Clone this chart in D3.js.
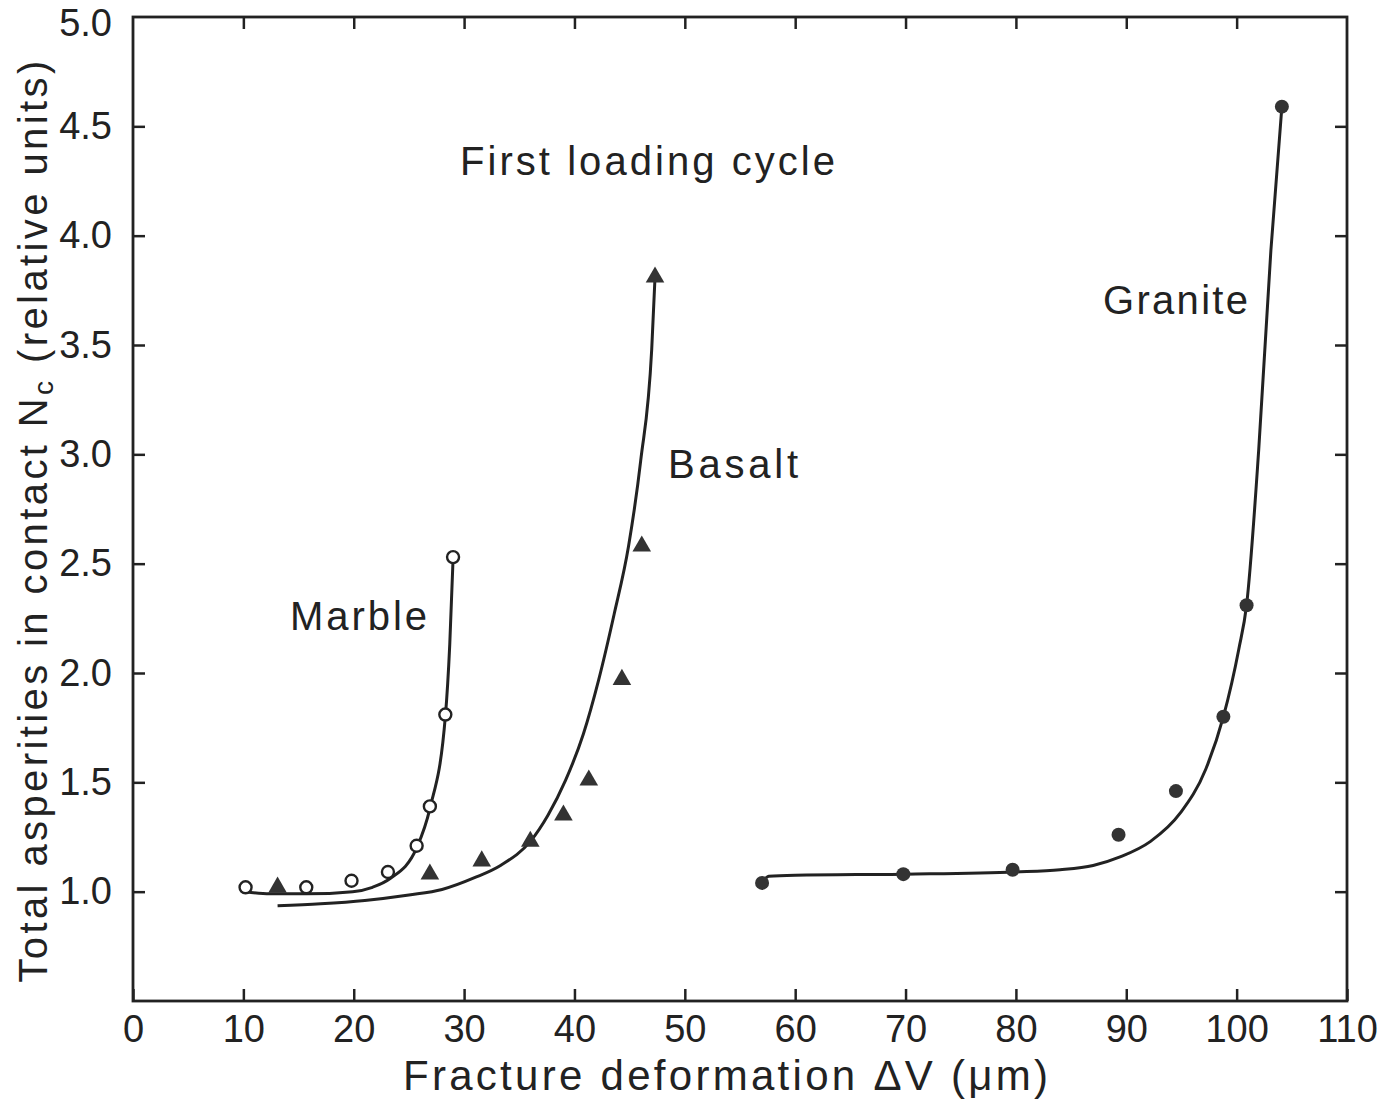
<!DOCTYPE html>
<html lang="en">
<head>
<meta charset="UTF-8">
<title>Total asperities in contact</title>
<script src="https://d3js.org/d3.v7.min.js"></script>
<style>
  body { margin: 0; background: #fff; }
  text { font-family: "Liberation Sans", Arial, sans-serif; fill: #222; }
</style>
</head>
<body>
<script>
// measured points [deformation µm, Nc]
const marblePts = [[10.2,1.02],[15.7,1.02],[19.8,1.05],[23.1,1.09],[25.7,1.21],[26.9,1.39],[28.3,1.81],[29.0,2.53]];
const basaltPts = [[13.1,1.02],[26.9,1.08],[31.6,1.14],[36.0,1.23],[39.0,1.35],[41.3,1.51],[44.3,1.97],[46.1,2.58],[47.3,3.81]];
const granitePts = [[57.0,1.04],[69.8,1.08],[79.7,1.10],[89.3,1.26],[94.5,1.46],[98.8,1.80],[100.9,2.31],[104.1,4.59]];

// fitted curves
const marbleCurve = [[10.2,1.0],[12.4,0.99],[15.7,0.99],[19.9,1.0],[21.7,1.02],[23.3,1.06],[25.7,1.2],[26.9,1.38],[28.3,1.8],[28.7,2.13],[29.0,2.52]];
const basaltCurve = [[13.1,0.936],[17,0.945],[21,0.96],[25,0.985],[28,1.01],[31,1.065],[33.3,1.12],[36,1.23],[37.6,1.35],[39.2,1.51],[40.8,1.72],[42.2,1.97],[43.6,2.27],[44.9,2.58],[46.0,2.97],[47.0,3.48],[47.3,3.81]];
const graniteCurve = [[57.0,1.04],[57.6,1.07],[60,1.075],[70,1.08],[80,1.09],[84,1.10],[87,1.12],[89.5,1.16],[92.2,1.23],[94.9,1.36],[97.2,1.56],[98.8,1.80],[100.2,2.11],[100.9,2.31],[102.0,3.02],[103.1,3.93],[104.1,4.59]];

const xTicks = d3.range(0, 111, 10);
const yTicks = [1.0, 1.5, 2.0, 2.5, 3.0, 3.5, 4.0, 4.5, 5.0];

const width = 1378, height = 1111;
const margin = {left: 133, right: 31, top: 17, bottom: 110};

const svg = d3.select("body").append("svg")
    .attr("width", width)
    .attr("height", height);

const x = d3.scaleLinear().domain([0, 110]).range([margin.left, width - margin.right]);
const y = d3.scaleLinear().domain([0.5, 5.0]).range([height - margin.bottom, margin.top]);

const ink = "#222";

// axes, ticks pointing inward on all four sides
function styleAxis(g) {
    g.select(".domain").remove();
    g.selectAll(".tick line").attr("stroke", ink).attr("stroke-width", 2.5);
    g.selectAll(".tick text").attr("fill", ink).style("font-size", "38px");
}

svg.append("g")
    .attr("transform", `translate(0,${y(0.5)})`)
    .call(d3.axisBottom(x).tickValues(xTicks).tickSize(-12).tickPadding(14).tickFormat(d3.format("d")))
    .call(styleAxis);

svg.append("g")
    .attr("transform", `translate(0,${y(5.0)})`)
    .call(d3.axisTop(x).tickValues(xTicks.slice(1, -1)).tickSize(-12).tickFormat(""))
    .call(styleAxis);

svg.append("g")
    .attr("transform", `translate(${x(0)},0)`)
    .call(d3.axisLeft(y).tickValues(yTicks.slice(0, -1)).tickSize(-12).tickPadding(21).tickFormat(d3.format(".1f")))
    .call(styleAxis);

// label for 5.0 sits a little low at the corner
svg.append("text")
    .attr("x", x(0) - 21).attr("y", y(5.0) + 19)
    .attr("text-anchor", "end")
    .style("font-size", "38px")
    .text("5.0");

svg.append("g")
    .attr("transform", `translate(${x(110)},0)`)
    .call(d3.axisRight(y).tickValues(yTicks.slice(0, -1)).tickSize(-12).tickFormat(""))
    .call(styleAxis);

svg.append("rect")
    .attr("x", x(0)).attr("y", y(5.0))
    .attr("width", x(110) - x(0)).attr("height", y(0.5) - y(5.0))
    .attr("fill", "none").attr("stroke", ink).attr("stroke-width", 2.8);

// curves
const line = d3.line()
    .x(d => x(d[0]))
    .y(d => y(d[1]))
    .curve(d3.curveMonotoneX);

[marbleCurve, basaltCurve, graniteCurve].forEach(c => {
    svg.append("path")
        .datum(c)
        .attr("d", line)
        .attr("fill", "none")
        .attr("stroke", ink)
        .attr("stroke-width", 3);
});

// markers
svg.append("g").selectAll("circle")
    .data(marblePts)
    .join("circle")
    .attr("cx", d => x(d[0]))
    .attr("cy", d => y(d[1]))
    .attr("r", 6)
    .attr("fill", "#fff")
    .attr("stroke", ink)
    .attr("stroke-width", 2.4);

const tri = d3.symbol().type(d3.symbolTriangle).size(150);
svg.append("g").selectAll("path")
    .data(basaltPts)
    .join("path")
    .attr("transform", d => `translate(${x(d[0])},${y(d[1])})`)
    .attr("d", tri)
    .attr("fill", "#333");

svg.append("g").selectAll("circle")
    .data(granitePts)
    .join("circle")
    .attr("cx", d => x(d[0]))
    .attr("cy", d => y(d[1]))
    .attr("r", 7)
    .attr("fill", "#333");

// annotations
const notes = [
    {text: "First loading cycle", x: 460, y: 175, w: 375},
    {text: "Basalt", x: 668, y: 478, w: 130},
    {text: "Marble", x: 290, y: 630, w: 137},
    {text: "Granite", x: 1103, y: 314, w: 145}
];
svg.append("g").selectAll("text")
    .data(notes)
    .join("text")
    .attr("x", d => d.x)
    .attr("y", d => d.y)
    .attr("textLength", d => d.w)
    .attr("lengthAdjust", "spacing")
    .style("font-size", "40px")
    .text(d => d.text);

// axis titles
svg.append("text")
    .attr("x", 403)
    .attr("y", 1090)
    .attr("textLength", 645)
    .attr("lengthAdjust", "spacing")
    .style("font-size", "42px")
    .text("Fracture deformation ΔV (μm)");

const yTitle = svg.append("text")
    .attr("transform", `translate(47,${(55 + 985) / 2}) rotate(-90)`)
    .attr("text-anchor", "middle")
    .style("font-size", "40px")
    .style("letter-spacing", "3.4px");
yTitle.append("tspan").text("Total asperities in contact N");
yTitle.append("tspan").attr("dy", 6).style("font-size", "28px").text("c");
yTitle.append("tspan").attr("dy", -6).text(" (relative units)");
</script>
</body>
</html>
